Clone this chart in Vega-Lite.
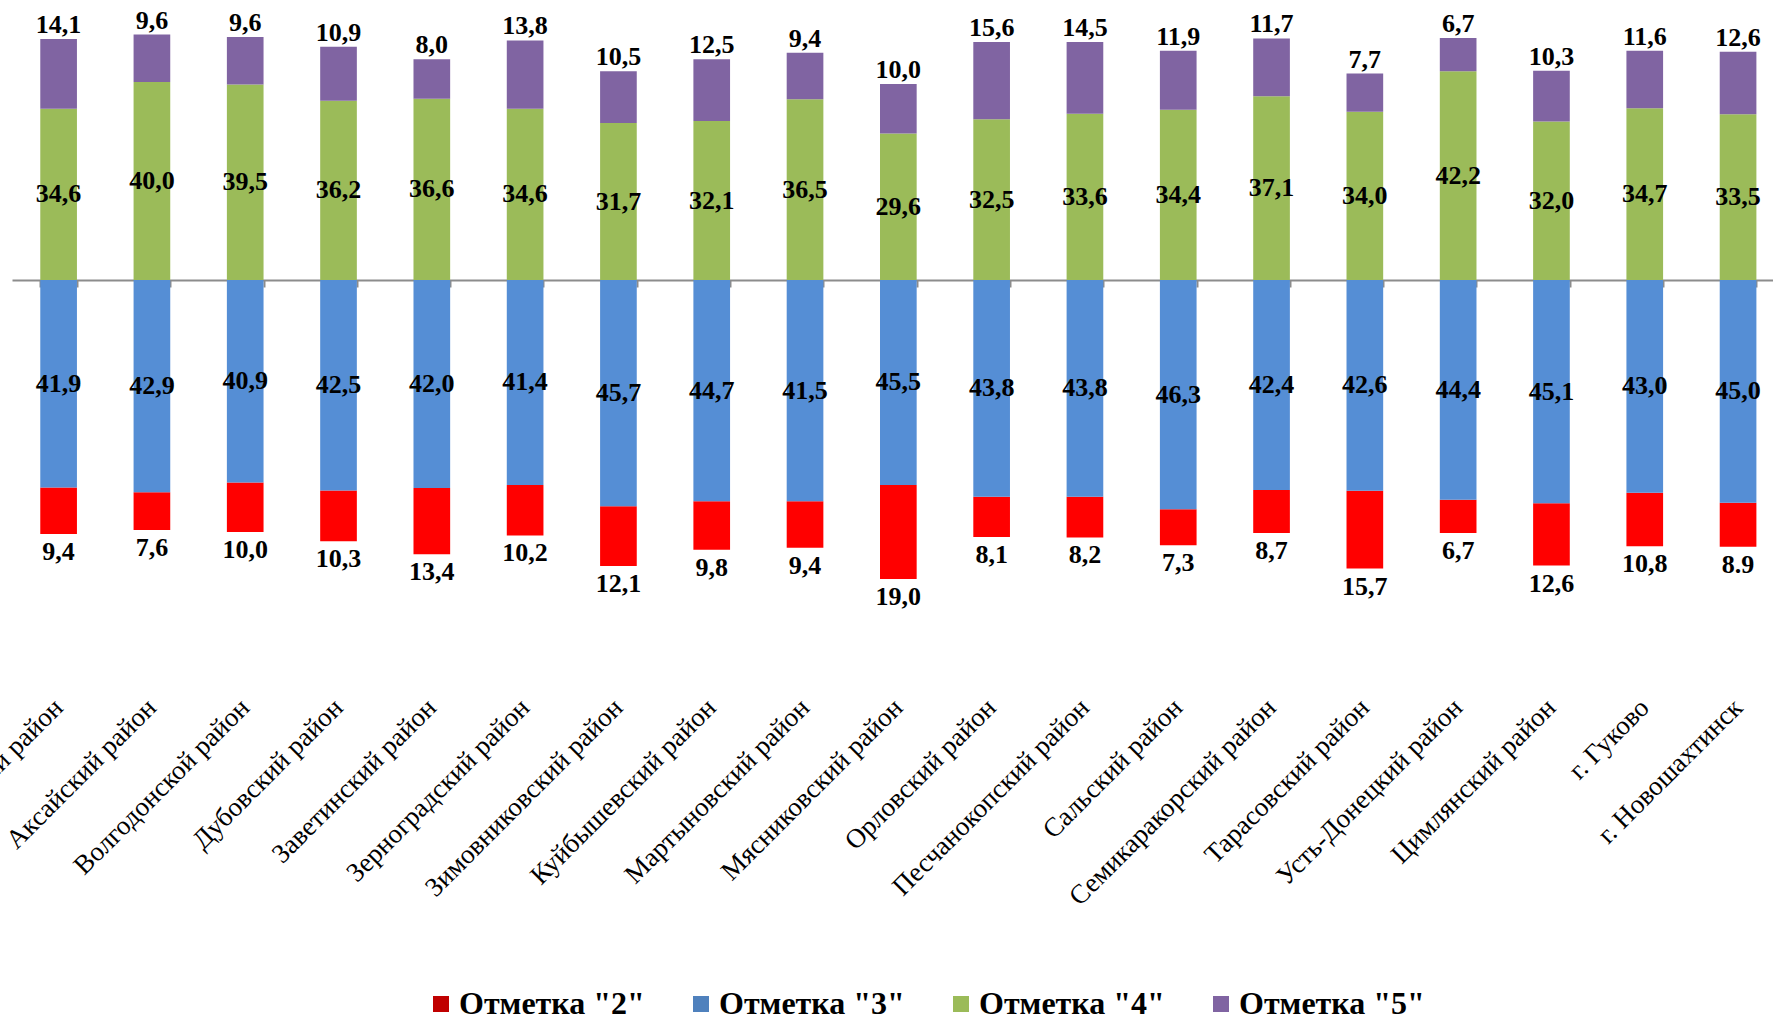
{
  "$schema": "https://vega.github.io/schema/vega-lite/v6.json",
  "autosize": {"type": "none"},
  "padding": {"left": 12, "top": 0, "right": 0, "bottom": 331},
  "width": 1761,
  "height": 690,
  "background": "white",
  "config": {"view": {"stroke": null}, "font": "Liberation Serif"},
  "data": {
    "values": [
      {"district": "Азовский район", "grade": "Отметка \"2\"", "value": -9.4, "label": "9,4"},
      {"district": "Азовский район", "grade": "Отметка \"3\"", "value": -41.9, "label": "41,9"},
      {"district": "Азовский район", "grade": "Отметка \"4\"", "value": 34.6, "label": "34,6"},
      {"district": "Азовский район", "grade": "Отметка \"5\"", "value": 14.1, "label": "14,1"},
      {"district": "Аксайский район", "grade": "Отметка \"2\"", "value": -7.6, "label": "7,6"},
      {"district": "Аксайский район", "grade": "Отметка \"3\"", "value": -42.9, "label": "42,9"},
      {"district": "Аксайский район", "grade": "Отметка \"4\"", "value": 40.0, "label": "40,0"},
      {"district": "Аксайский район", "grade": "Отметка \"5\"", "value": 9.6, "label": "9,6"},
      {"district": "Волгодонской  район", "grade": "Отметка \"2\"", "value": -10.0, "label": "10,0"},
      {"district": "Волгодонской  район", "grade": "Отметка \"3\"", "value": -40.9, "label": "40,9"},
      {"district": "Волгодонской  район", "grade": "Отметка \"4\"", "value": 39.5, "label": "39,5"},
      {"district": "Волгодонской  район", "grade": "Отметка \"5\"", "value": 9.6, "label": "9,6"},
      {"district": "Дубовский район", "grade": "Отметка \"2\"", "value": -10.3, "label": "10,3"},
      {"district": "Дубовский район", "grade": "Отметка \"3\"", "value": -42.5, "label": "42,5"},
      {"district": "Дубовский район", "grade": "Отметка \"4\"", "value": 36.2, "label": "36,2"},
      {"district": "Дубовский район", "grade": "Отметка \"5\"", "value": 10.9, "label": "10,9"},
      {"district": "Заветинский  район", "grade": "Отметка \"2\"", "value": -13.4, "label": "13,4"},
      {"district": "Заветинский  район", "grade": "Отметка \"3\"", "value": -42.0, "label": "42,0"},
      {"district": "Заветинский  район", "grade": "Отметка \"4\"", "value": 36.6, "label": "36,6"},
      {"district": "Заветинский  район", "grade": "Отметка \"5\"", "value": 8.0, "label": "8,0"},
      {"district": "Зерноградский район", "grade": "Отметка \"2\"", "value": -10.2, "label": "10,2"},
      {"district": "Зерноградский район", "grade": "Отметка \"3\"", "value": -41.4, "label": "41,4"},
      {"district": "Зерноградский район", "grade": "Отметка \"4\"", "value": 34.6, "label": "34,6"},
      {"district": "Зерноградский район", "grade": "Отметка \"5\"", "value": 13.8, "label": "13,8"},
      {"district": "Зимовниковский район", "grade": "Отметка \"2\"", "value": -12.1, "label": "12,1"},
      {"district": "Зимовниковский район", "grade": "Отметка \"3\"", "value": -45.7, "label": "45,7"},
      {"district": "Зимовниковский район", "grade": "Отметка \"4\"", "value": 31.7, "label": "31,7"},
      {"district": "Зимовниковский район", "grade": "Отметка \"5\"", "value": 10.5, "label": "10,5"},
      {"district": "Куйбышевский  район", "grade": "Отметка \"2\"", "value": -9.8, "label": "9,8"},
      {"district": "Куйбышевский  район", "grade": "Отметка \"3\"", "value": -44.7, "label": "44,7"},
      {"district": "Куйбышевский  район", "grade": "Отметка \"4\"", "value": 32.1, "label": "32,1"},
      {"district": "Куйбышевский  район", "grade": "Отметка \"5\"", "value": 12.5, "label": "12,5"},
      {"district": "Мартыновский  район", "grade": "Отметка \"2\"", "value": -9.4, "label": "9,4"},
      {"district": "Мартыновский  район", "grade": "Отметка \"3\"", "value": -44.7, "label": "41,5"},
      {"district": "Мартыновский  район", "grade": "Отметка \"4\"", "value": 36.5, "label": "36,5"},
      {"district": "Мартыновский  район", "grade": "Отметка \"5\"", "value": 9.4, "label": "9,4"},
      {"district": "Мясниковский район", "grade": "Отметка \"2\"", "value": -19.0, "label": "19,0"},
      {"district": "Мясниковский район", "grade": "Отметка \"3\"", "value": -41.4, "label": "45,5"},
      {"district": "Мясниковский район", "grade": "Отметка \"4\"", "value": 29.6, "label": "29,6"},
      {"district": "Мясниковский район", "grade": "Отметка \"5\"", "value": 10.0, "label": "10,0"},
      {"district": "Орловский район", "grade": "Отметка \"2\"", "value": -8.1, "label": "8,1"},
      {"district": "Орловский район", "grade": "Отметка \"3\"", "value": -43.8, "label": "43,8"},
      {"district": "Орловский район", "grade": "Отметка \"4\"", "value": 32.5, "label": "32,5"},
      {"district": "Орловский район", "grade": "Отметка \"5\"", "value": 15.6, "label": "15,6"},
      {"district": "Песчанокопский  район", "grade": "Отметка \"2\"", "value": -8.2, "label": "8,2"},
      {"district": "Песчанокопский  район", "grade": "Отметка \"3\"", "value": -43.8, "label": "43,8"},
      {"district": "Песчанокопский  район", "grade": "Отметка \"4\"", "value": 33.6, "label": "33,6"},
      {"district": "Песчанокопский  район", "grade": "Отметка \"5\"", "value": 14.5, "label": "14,5"},
      {"district": "Сальский  район", "grade": "Отметка \"2\"", "value": -7.3, "label": "7,3"},
      {"district": "Сальский  район", "grade": "Отметка \"3\"", "value": -46.3, "label": "46,3"},
      {"district": "Сальский  район", "grade": "Отметка \"4\"", "value": 34.4, "label": "34,4"},
      {"district": "Сальский  район", "grade": "Отметка \"5\"", "value": 11.9, "label": "11,9"},
      {"district": "Семикаракорский  район", "grade": "Отметка \"2\"", "value": -8.7, "label": "8,7"},
      {"district": "Семикаракорский  район", "grade": "Отметка \"3\"", "value": -42.4, "label": "42,4"},
      {"district": "Семикаракорский  район", "grade": "Отметка \"4\"", "value": 37.1, "label": "37,1"},
      {"district": "Семикаракорский  район", "grade": "Отметка \"5\"", "value": 11.7, "label": "11,7"},
      {"district": "Тарасовский  район", "grade": "Отметка \"2\"", "value": -15.7, "label": "15,7"},
      {"district": "Тарасовский  район", "grade": "Отметка \"3\"", "value": -42.6, "label": "42,6"},
      {"district": "Тарасовский  район", "grade": "Отметка \"4\"", "value": 34.0, "label": "34,0"},
      {"district": "Тарасовский  район", "grade": "Отметка \"5\"", "value": 7.7, "label": "7,7"},
      {"district": "Усть-Донецкий район", "grade": "Отметка \"2\"", "value": -6.7, "label": "6,7"},
      {"district": "Усть-Донецкий район", "grade": "Отметка \"3\"", "value": -44.4, "label": "44,4"},
      {"district": "Усть-Донецкий район", "grade": "Отметка \"4\"", "value": 42.2, "label": "42,2"},
      {"district": "Усть-Донецкий район", "grade": "Отметка \"5\"", "value": 6.7, "label": "6,7"},
      {"district": "Цимлянский  район", "grade": "Отметка \"2\"", "value": -12.6, "label": "12,6"},
      {"district": "Цимлянский  район", "grade": "Отметка \"3\"", "value": -45.1, "label": "45,1"},
      {"district": "Цимлянский  район", "grade": "Отметка \"4\"", "value": 32.0, "label": "32,0"},
      {"district": "Цимлянский  район", "grade": "Отметка \"5\"", "value": 10.3, "label": "10,3"},
      {"district": "г. Гуково", "grade": "Отметка \"2\"", "value": -10.8, "label": "10,8"},
      {"district": "г. Гуково", "grade": "Отметка \"3\"", "value": -43.0, "label": "43,0"},
      {"district": "г. Гуково", "grade": "Отметка \"4\"", "value": 34.7, "label": "34,7"},
      {"district": "г. Гуково", "grade": "Отметка \"5\"", "value": 11.6, "label": "11,6"},
      {"district": "г. Новошахтинск", "grade": "Отметка \"2\"", "value": -8.9, "label": "8.9"},
      {"district": "г. Новошахтинск", "grade": "Отметка \"3\"", "value": -45.0, "label": "45,0"},
      {"district": "г. Новошахтинск", "grade": "Отметка \"4\"", "value": 33.5, "label": "33,5"},
      {"district": "г. Новошахтинск", "grade": "Отметка \"5\"", "value": 12.6, "label": "12,6"}
    ]
  },
  "encoding": {
    "x": {"field": "district", "type": "nominal", "sort": null, "axis": null,
          "scale": {"paddingInner": 0.607, "paddingOuter": 0.2405, "align": 0.63}}
  },
  "layer": [
    {
      "transform": [{"filter": "datum.value > 0"}],
      "mark": {"type": "bar"},
      "encoding": {
        "x": {"field": "district", "type": "nominal", "sort": null,
              "scale": {"paddingInner": 0.607, "paddingOuter": 0.2405, "align": 0.63},
              "axis": {"orient": "top", "offset": -694, "title": null, "domain": false, "ticks": false,
                       "labelAngle": -45, "labelAlign": "right", "labelBaseline": "top",
                       "labelFont": "Liberation Serif", "labelFontSize": 27, "labelColor": "#000000",
                       "labelPadding": 0, "labelOffset": -9, "labelLimit": 500, "labelOverlap": false}},
        "y": {"field": "value", "type": "quantitative", "stack": "zero",
              "scale": {"domain": [-82.83, 56.57], "nice": false, "zero": false}, "axis": null},
        "color": {"field": "grade", "type": "nominal",
                  "scale": {"domain": ["Отметка \"2\"", "Отметка \"3\"", "Отметка \"4\"", "Отметка \"5\""],
                            "range": ["#FF0000", "#558ED5", "#9BBB59", "#8064A2"]},
                  "legend": null},
        "order": {"field": "grade", "sort": "ascending"}
      }
    },
    {
      "transform": [{"filter": "datum.value < 0"}],
      "mark": {"type": "bar"},
      "encoding": {
        "x": {"field": "district", "type": "nominal", "sort": null,
              "scale": {"paddingInner": 0.607, "paddingOuter": 0.2405, "align": 0.63},
              "axis": {"orient": "bottom", "offset": -410, "title": null, "labels": false,
                       "domain": true, "domainColor": "#8C8C8C", "domainWidth": 2,
                       "ticks": true, "tickBand": "extent", "tickOffset": -28.3, "tickSize": 7,
                       "tickColor": "#8C8C8C", "tickWidth": 2, "tickOpacity": 1, "zindex": 0}},
        "y": {"field": "value", "type": "quantitative", "stack": "zero",
              "scale": {"domain": [-82.83, 56.57], "nice": false, "zero": false}, "axis": null},
        "color": {"field": "grade", "type": "nominal",
                  "scale": {"domain": ["Отметка \"2\"", "Отметка \"3\"", "Отметка \"4\"", "Отметка \"5\""],
                            "range": ["#FF0000", "#558ED5", "#9BBB59", "#8064A2"]},
                  "legend": null},
        "order": {"field": "grade", "sort": "descending"}
      }
    },
    {
      "transform": [{"filter": "indexof(datum.grade, '4') > 0 || indexof(datum.grade, '3') > 0"}],
      "mark": {"type": "text", "font": "Liberation Serif", "fontSize": 26, "fontWeight": "bold",
               "color": "#000000", "align": "center", "baseline": "middle"},
      "encoding": {
        "y": {"field": "value", "type": "quantitative", "stack": null,
              "scale": {"domain": [-165.66, 113.14], "nice": false, "zero": false}, "axis": null},
        "text": {"field": "label", "type": "nominal"}
      }
    },
    {
      "transform": [{"filter": "datum.value > 0"}],
      "mark": {"type": "text", "font": "Liberation Serif", "fontSize": 26, "fontWeight": "bold",
               "color": "#000000", "align": "center", "baseline": "alphabetic", "dy": -6},
      "encoding": {
        "y": {"field": "value", "type": "quantitative", "stack": "zero",
              "scale": {"domain": [-82.83, 56.57], "nice": false, "zero": false}, "axis": null},
        "order": {"field": "grade", "sort": "ascending"},
        "text": {"field": "label", "type": "nominal"},
        "opacity": {"condition": {"test": "indexof(datum.grade, '4') > 0", "value": 0}, "value": 1}
      }
    },
    {
      "transform": [{"filter": "datum.value < 0"}],
      "mark": {"type": "text", "font": "Liberation Serif", "fontSize": 26, "fontWeight": "bold",
               "color": "#000000", "align": "center", "baseline": "alphabetic", "dy": 26},
      "encoding": {
        "y": {"field": "value", "type": "quantitative", "stack": "zero",
              "scale": {"domain": [-82.83, 56.57], "nice": false, "zero": false}, "axis": null},
        "order": {"field": "grade", "sort": "descending"},
        "text": {"field": "label", "type": "nominal"},
        "opacity": {"condition": {"test": "indexof(datum.grade, '3') > 0", "value": 0}, "value": 1}
      }
    },
    {
      "mark": {"type": "square", "opacity": 0},
      "encoding": {
        "y": {"field": "value", "type": "quantitative", "stack": null,
              "scale": {"domain": [-82.83, 56.57], "nice": false, "zero": false}, "axis": null},
        "color": {"field": "grade", "type": "nominal",
                  "scale": {"domain": ["Отметка \"2\"", "Отметка \"3\"", "Отметка \"4\"", "Отметка \"5\""],
                            "range": ["#C00000", "#4F81BD", "#9BBB59", "#8064A2"]},
                  "legend": {"orient": "none", "legendX": 413, "legendY": 988, "direction": "horizontal",
                             "title": null, "symbolType": "square", "symbolSize": 256, "symbolOpacity": 1,
                             "symbolStrokeWidth": 0,
                             "labelFont": "Liberation Serif", "labelFontSize": 32, "labelFontWeight": "bold",
                             "labelColor": "#000000", "labelOffset": 2, "columnPadding": 40, "labelLimit": 400}}
      }
    }
  ],
  "resolve": {"scale": {"y": "independent", "color": "independent"}, "axis": {"x": "independent"}}
}
